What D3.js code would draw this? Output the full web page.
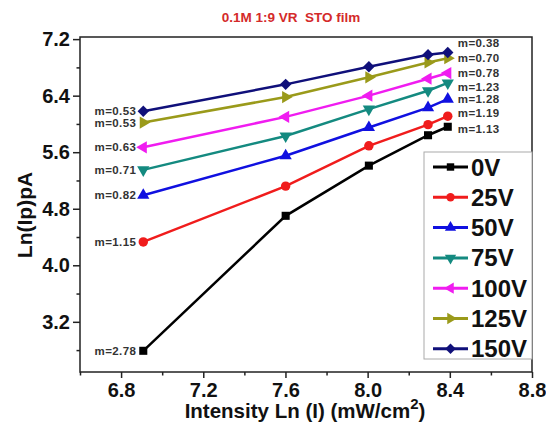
<!DOCTYPE html>
<html lang="en">
<head>
  <meta charset="UTF-8">
  <title>Ln(Ip) vs Intensity</title>
  <script src="https://d3js.org/d3.v7.min.js"></script>
  <style>
    body { margin: 0; background: #fff; }
    text { font-family: "Liberation Sans", Arial, sans-serif; font-weight: bold; }
    .tick text { font-size: 20px; fill: #111; }
    .tick line, .domain { stroke: #222; stroke-width: 1.5; }
    .note { font-size: 11.5px; fill: #333; letter-spacing: 0.4px; }
  </style>
</head>
<body>
<div id="chart"></div>
<script>
  // intensity, Ln(I)
  var xValues = [6.908, 7.601, 8.006, 8.294, 8.39];

  // Ln(Ip) per bias voltage
  var series = ["0V", "25V", "50V", "75V", "100V", "125V", "150V"];
  var v0   = [2.79, 4.70, 5.41, 5.84, 5.96];
  var v25  = [4.33, 5.12, 5.69, 5.99, 6.11];
  var v50  = [4.99, 5.55, 5.95, 6.23, 6.35];
  var v75  = [5.35, 5.83, 6.21, 6.47, 6.58];
  var v100 = [5.67, 6.10, 6.40, 6.64, 6.72];
  var v125 = [6.02, 6.38, 6.66, 6.87, 6.93];
  var v150 = [6.18, 6.56, 6.81, 6.98, 7.01];

  // slope annotations (low intensity / high intensity)
  var slopesLow  = ["m=2.78", "m=1.15", "m=0.82", "m=0.71", "m=0.63", "m=0.53", "m=0.53"];
  var slopesHigh = ["m=1.13", "m=1.19", "m=1.28", "m=1.23", "m=0.78", "m=0.70", "m=0.38"];

  var xTicks = [6.8, 7.2, 7.6, 8.0, 8.4, 8.8];
  var yTicks = [3.2, 4.0, 4.8, 5.6, 6.4, 7.2];

  var values = [v0, v25, v50, v75, v100, v125, v150];
  var colors = ["#000000", "#f01c1c", "#1010e0", "#148a80", "#f01cf0", "#9a9a1a", "#10107a"];
  // marker shape + rotation
  var shapes = [
    [d3.symbolSquare, 0], [d3.symbolCircle, 0], [d3.symbolTriangle, 0],
    [d3.symbolTriangle, 180], [d3.symbolTriangle, -90], [d3.symbolTriangle, 90],
    [d3.symbolSquare, 45]
  ];
  var highNudge = [2.5, -3, 0, 4, 0, 0, -9.5];

  var w = 546, h = 430;
  var margin = {top: 37, right: 14, bottom: 58, left: 80};

  var svg = d3.select("#chart").append("svg")
    .attr("width", w)
    .attr("height", h);

  var x = d3.scaleLinear().domain([6.6, 8.8]).range([margin.left, w - margin.right]);
  var y = d3.scaleLinear().domain([2.49, 7.23]).range([h - margin.bottom, margin.top]);

  // frame
  svg.append("rect")
    .attr("x", x(6.6)).attr("y", y(7.23))
    .attr("width", x(8.8) - x(6.6)).attr("height", y(2.49) - y(7.23))
    .attr("fill", "none").attr("stroke", "#222").attr("stroke-width", 1.5);

  // minor ticks
  var minorX = d3.range(6.6, 8.81, 0.2).filter(function(v) { return xTicks.every(function(t) { return Math.abs(t - v) > 0.01; }); });
  var minorY = d3.range(2.8, 7.2, 0.4).filter(function(v) { return yTicks.every(function(t) { return Math.abs(t - v) > 0.01; }); });

  svg.append("g")
    .attr("transform", "translate(0," + y(2.49) + ")")
    .call(d3.axisBottom(x).tickValues(minorX).tickSize(3.5).tickFormat(""))
    .call(function(g) { g.select(".domain").remove(); });
  svg.append("g")
    .attr("transform", "translate(" + x(6.6) + ",0)")
    .call(d3.axisLeft(y).tickValues(minorY).tickSize(3.5).tickFormat(""))
    .call(function(g) { g.select(".domain").remove(); });

  svg.append("g")
    .attr("transform", "translate(0," + y(2.49) + ")")
    .call(d3.axisBottom(x).tickValues(xTicks).tickSize(6).tickPadding(5).tickFormat(d3.format(".1f")))
    .call(function(g) { g.select(".domain").remove(); });
  svg.append("g")
    .attr("transform", "translate(" + x(6.6) + ",0)")
    .call(d3.axisLeft(y).tickValues(yTicks).tickSize(7).tickPadding(3).tickFormat(d3.format(".1f")))
    .call(function(g) { g.select(".domain").remove(); });

  // axis titles
  var xt = svg.append("text")
    .attr("x", 305).attr("y", 418)
    .attr("text-anchor", "middle")
    .style("font-size", "20.5px").attr("fill", "#111");
  xt.append("tspan").text("Intensity Ln (I) (mW/cm");
  xt.append("tspan").attr("dy", -9).style("font-size", "15px").text("2");
  xt.append("tspan").attr("dy", 9).text(")");

  svg.append("text")
    .attr("transform", "translate(32,215) rotate(-90)")
    .attr("text-anchor", "middle")
    .style("font-size", "21px").attr("fill", "#111")
    .text("Ln(Ip)pA");

  svg.append("text")
    .attr("x", 291).attr("y", 22)
    .attr("text-anchor", "middle")
    .style("font-size", "13.5px").style("white-space", "pre")
    .attr("fill", "#d42a2a")
    .text("0.1M 1:9 VR  STO film");

  var line = d3.line()
    .x(function(d, i) { return x(xValues[i]); })
    .y(function(d) { return y(d); });

  function marker(sel, k, size) {
    sel.attr("d", d3.symbol().type(shapes[k][0]).size(size))
      .attr("fill", colors[k]);
  }

  values.forEach(function(vals, k) {
    var g = svg.append("g");
    g.append("path")
      .attr("d", line(vals))
      .attr("fill", "none")
      .attr("stroke", colors[k])
      .attr("stroke-width", 2.5);
    g.selectAll("path.pt")
      .data(vals)
      .enter()
      .append("path")
      .attr("class", "pt")
      .attr("transform", function(d, i) { return "translate(" + x(xValues[i]) + "," + y(d) + ") rotate(" + shapes[k][1] + ")"; })
      .call(marker, k, k === 1 ? 70 : 65);

    svg.append("text")
      .attr("class", "note")
      .attr("x", x(xValues[0]) - 7)
      .attr("y", y(vals[0]))
      .attr("text-anchor", "end")
      .attr("dominant-baseline", "central")
      .text(slopesLow[k]);

    svg.append("text")
      .attr("class", "note")
      .attr("x", x(xValues[xValues.length - 1]) + 10)
      .attr("y", y(vals[vals.length - 1]) + highNudge[k])
      .attr("dominant-baseline", "central")
      .text(slopesHigh[k]);
  });

  // legend
  var lg = svg.append("g").attr("transform", "translate(424,152)");
  lg.append("rect")
    .attr("width", 108).attr("height", 207)
    .attr("fill", "#fff").attr("stroke", "#aaa").attr("stroke-width", 1);
  var items = lg.selectAll("g.item")
    .data(series)
    .enter()
    .append("g")
    .attr("class", "item")
    .attr("transform", function(d, i) { return "translate(0," + (15 + i * 30.3) + ")"; });
  items.append("line")
    .attr("x1", 9).attr("x2", 44)
    .attr("stroke", function(d, i) { return colors[i]; })
    .attr("stroke-width", 3);
  items.append("path")
    .attr("transform", function(d, i) { return "translate(26.5,0) rotate(" + shapes[i][1] + ")"; })
    .each(function(d, i) { d3.select(this).call(marker, i, 55); });
  items.append("text")
    .attr("x", 47)
    .attr("dominant-baseline", "central")
    .style("font-size", "24px").attr("fill", "#111")
    .text(function(d) { return d; });
</script>
</body>
</html>
